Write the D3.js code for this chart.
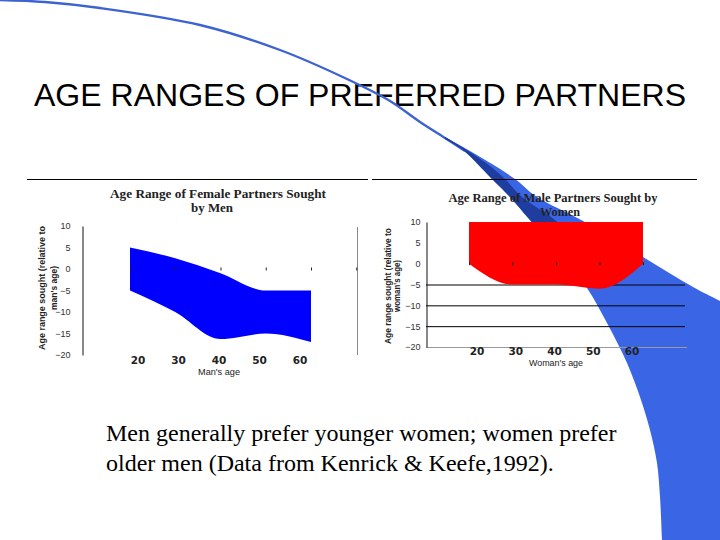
<!DOCTYPE html>
<html><head><meta charset="utf-8">
<script src="https://cdn.jsdelivr.net/npm/d3@7"></script>
<style>body{margin:0;background:#fff}svg{display:block}</style>
</head><body>
<script>
// ---- data ----
const ages = [20, 30, 40, 50, 60];
const ageTickLabels = ["20", "30", "40", "50", "60"];
const yTickValues = [10, 5, 0, -5, -10, -15, -20];
const menUpper = [5, 2.5, -1, -5, -5];
const menLower = [-5, -10, -16.3, -15, -17];
const womenUpper = [10, 10, 10, 10, 10];
const womenLower = [0, -5, -5, -6, 0];
const womenGrid = [-5, -10, -15];

const W = 720, H = 540;
const svg = d3.select("body").append("svg").attr("width", W).attr("height", H);

const sans = "'Liberation Sans', Arial, sans-serif";
const serif = "'Liberation Serif', 'DejaVu Serif', serif";

// main title
svg.append("text").attr("x", 34).attr("y", 106)
  .attr("font-family", sans).attr("font-size", 32)
  .attr("textLength", 652).attr("lengthAdjust", "spacingAndGlyphs")
  .text("AGE RANGES OF PREFERRED PARTNERS");

// ---- decorative swoosh (slide template) ----
const smooth = d3.line().curve(d3.curveCatmullRom);
const arcPts = [[-2,0],[45,2],[100,8],[200,25],[280,50],[347,79],[390,101],[420,122],[445,138],[465,151]];
svg.append("path").attr("d", smooth(arcPts)).attr("fill", "none")
  .attr("stroke", "#3d62d2").attr("stroke-width", 2.4);
const bandUpper = [[445,137],[470,151],[492,164],[515,179],[537,197],[583,221],[643,257],[693,287],[720,301],[750,318]];
const bandLower = [[750,560],[663,560],[662,540],[660,497],[657,463],[650,430],[640,397],[627,363],[607,323],[587,288],[560,252],[530,220],[510,197],[492,179],[463,150],[445,139]];
function bandPath(up, low) {
  return smooth(up) + smooth(low).replace(/^M/, "L") + "Z";
}
svg.append("path").attr("d", bandPath(bandUpper, bandLower)).attr("fill", "#3a66e6");
const darkUpper = [[445,137],[470,152],[490,166],[505,179],[522,197],[555,220],[575,240]];
const darkLower = [[560,252],[530,220],[510,197],[492,179],[463,150],[445,139]];
svg.append("path").attr("d", bandPath(darkUpper, darkLower)).attr("fill", "#1f3d9e");

// separator lines
svg.append("line").attr("x1", 27).attr("x2", 368).attr("y1", 179.5).attr("y2", 179.5).attr("stroke", "#000");
svg.append("line").attr("x1", 372).attr("x2", 697).attr("y1", 179.5).attr("y2", 179.5).attr("stroke", "#000");

function chart(cfg) {
  const g = svg.append("g");
  const x = d3.scaleLinear().domain([20, 60]).range(cfg.xData);
  const xl = d3.scaleLinear().domain([20, 60]).range(cfg.xLab);
  const y = d3.scaleLinear().domain([-20, 10]).range(cfg.yRange);
  const rows = ages.map((a, i) => ({age: a, hi: cfg.upper[i], lo: cfg.lower[i]}));

  // gridlines
  g.selectAll(".grid").data(cfg.grid).join("line")
    .attr("x1", cfg.axisX).attr("x2", cfg.gridEnd)
    .attr("y1", d => y(d) + 0.5).attr("y2", d => y(d) + 0.5)
    .attr("stroke", "#000").attr("stroke-width", 1);
  if (cfg.bottomLine) {
    g.append("line").attr("x1", cfg.axisX).attr("x2", cfg.bottomLine)
      .attr("y1", y(-20) + 0.5).attr("y2", y(-20) + 0.5).attr("stroke", "#999");
  }
  if (cfg.rightLine) {
    g.append("line").attr("x1", cfg.rightLine).attr("x2", cfg.rightLine)
      .attr("y1", y(10) + 1).attr("y2", y(-20)).attr("stroke", "#888");
  }

  // area
  const area = d3.area().x(d => x(d.age)).y0(d => y(d.lo)).y1(d => y(d.hi))
    .curve(d3.curveMonotoneX);
  g.append("path").datum(rows).attr("d", area).attr("fill", cfg.color);

  // zero-line ticks
  g.append("g").attr("transform", `translate(0,${y(0) - 1.5})`)
    .call(d3.axisBottom(x).tickValues(cfg.tickAges).tickSize(3).tickFormat(""))
    .call(s => s.select(".domain").remove())
    .call(s => s.selectAll(".tick line").attr("stroke", "#222"));

  // y axis
  const ya = g.append("g").attr("transform", `translate(${cfg.axisX + 0.5},0)`)
    .call(d3.axisLeft(y).tickValues(yTickValues).tickSize(0).tickPadding(cfg.tickPad).tickSizeOuter(0));
  ya.select(".domain").attr("stroke", "#111");
  ya.selectAll("text").attr("font-family", sans).attr("font-size", 9).attr("fill", "#333");

  // chart title
  cfg.title.forEach(t => {
    g.append("text").attr("x", t.x).attr("y", t.y).attr("text-anchor", "middle")
      .attr("font-family", serif).attr("font-weight", "bold").attr("font-size", 11.5)
      .attr("fill", "#222")
      .attr("textLength", t.len).attr("lengthAdjust", "spacingAndGlyphs").text(t.text);
  });

  // y title
  cfg.yTitle.forEach(t => {
    g.append("text").attr("transform", `translate(${t.x},${t.y}) rotate(-90)`)
      .attr("text-anchor", "middle").attr("font-family", sans).attr("font-size", 8.5)
      .attr("font-weight", "bold").attr("fill", "#222")
      .attr("textLength", t.len).attr("lengthAdjust", "spacingAndGlyphs").text(t.text);
  });

  // x tick labels
  g.selectAll(".xl").data(ages).join("text")
    .attr("x", d => xl(d)).attr("y", cfg.xLabY).attr("text-anchor", "middle")
    .attr("font-family", "'DejaVu Sans', sans-serif").attr("font-weight", "bold")
    .attr("font-size", 10.5).attr("fill", "#222")
    .text((d, i) => ageTickLabels[i]);
  // x title
  g.append("text").attr("x", cfg.xTitle.x).attr("y", cfg.xTitle.y).attr("text-anchor", "middle")
    .attr("font-family", sans).attr("font-size", 9).attr("fill", "#222")
    .attr("textLength", cfg.xTitle.len).attr("lengthAdjust", "spacingAndGlyphs")
    .text(cfg.xTitle.text);
}

chart({
  xData: [130, 311], xLab: [138, 300], yRange: [355, 226],
  upper: menUpper, lower: menLower, color: "#0000ff",
  axisX: 82, tickPad: 12, grid: [], gridEnd: 0, rightLine: 357.5, bottomLine: null,
  tickAges: [20, 30, 40, 50, 60, 70],
  title: [{text: "Age Range of  Female Partners Sought", x: 218, y: 198, len: 216},
          {text: "by Men", x: 212, y: 212, len: 42}],
  yTitle: [{text: "Age range sought (relative to", x: 45, y: 288, len: 124},
           {text: "man's age)", x: 57, y: 288, len: 44}],
  xLabY: 364,
  xTitle: {text: "Man's age", x: 219, y: 375, len: 42}
});

chart({
  xData: [469, 643], xLab: [477, 632], yRange: [347, 222],
  upper: womenUpper, lower: womenLower, color: "#ff0000",
  axisX: 426, tickPad: 6, grid: womenGrid, gridEnd: 685, rightLine: null, bottomLine: 687,
  tickAges: [20, 30, 40, 50, 60],
  title: [{text: "Age Range of Male Partners Sought by", x: 553, y: 202, len: 209},
          {text: "Women", x: 560, y: 216, len: 40}],
  yTitle: [{text: "Age range sought (relative to", x: 391, y: 286, len: 116},
           {text: "woman's age)", x: 400, y: 286, len: 52}],
  xLabY: 355,
  xTitle: {text: "Woman's age", x: 556, y: 366, len: 54}
});

// caption
const cap = svg.append("text").attr("font-family", serif).attr("font-size", 24).attr("fill", "#000");
cap.append("tspan").attr("x", 106).attr("y", 441).text("Men generally prefer younger women; women prefer");
cap.append("tspan").attr("x", 106).attr("y", 471).text("older men (Data from Kenrick & Keefe,1992).");
</script>
</body></html>
